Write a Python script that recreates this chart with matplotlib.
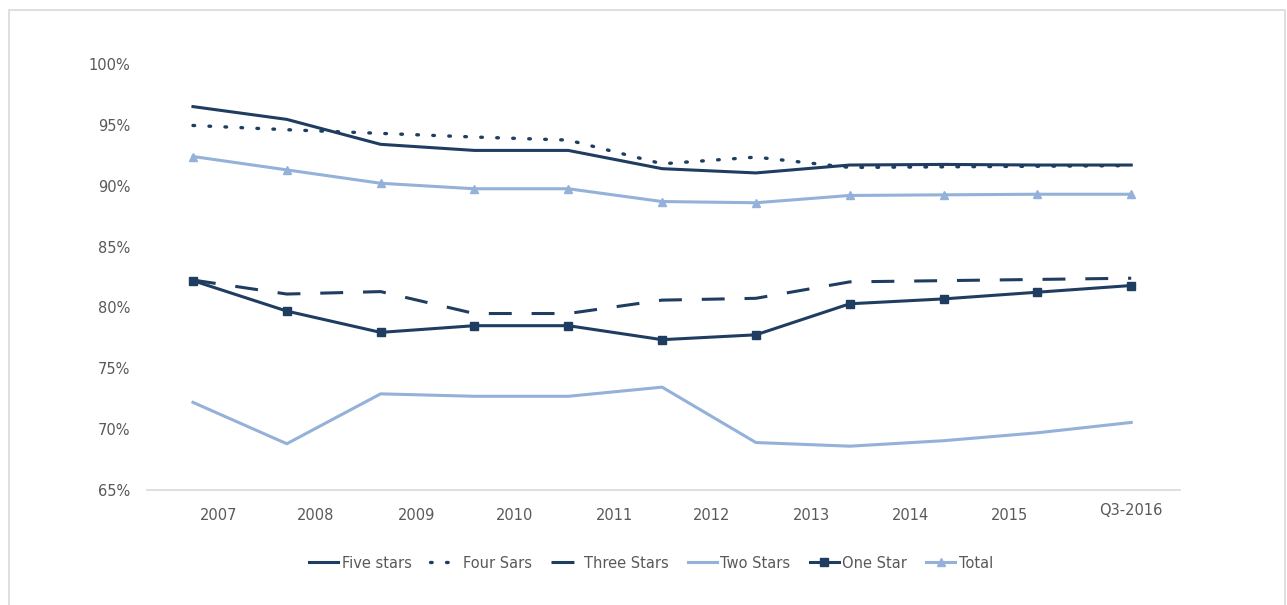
import matplotlib
matplotlib.use('Agg')
import matplotlib.pyplot as plt
import matplotlib.transforms as mtransforms
from matplotlib.patches import Rectangle

plt.rcParams['font.family'] = ['Liberation Sans Narrow', 'DejaVu Sans']

# Data, 11 points per series
five_stars = [96.5, 95.45, 93.4, 92.9, 92.9, 91.4, 91.05, 91.7, 91.75, 91.7, 91.7]
four_sars = [94.95, 94.6, 94.3, 94.0, 93.75, 91.8, 92.35, 91.5, 91.55, 91.6, 91.65]
three_stars = [82.25, 81.1, 81.3, 79.5, 79.5, 80.6, 80.75, 82.1, 82.2, 82.3, 82.4]
two_stars = [72.2, 68.8, 72.9, 72.7, 72.7, 73.45, 68.9, 68.6, 69.05, 69.7, 70.55]
one_star = [82.2, 79.7, 77.95, 78.5, 78.5, 77.35, 77.75, 80.3, 80.7, 81.25, 81.8]
total = [92.4, 91.3, 90.2, 89.75, 89.75, 88.7, 88.6, 89.2, 89.25, 89.3, 89.3]

# x-axis labels and where they sit along the category axis
x_labels = ['2007', '2008', '2009', '2010', '2011', '2012', '2013', '2014', '2015', 'Q3-2016']
x_label_pos = [0.27, 1.31, 2.38, 3.43, 4.49, 5.53, 6.59, 7.65, 8.70, 10.0]

y_ticks = [65, 70, 75, 80, 85, 90, 95, 100]

navy = '#1F3D60'
light = '#93B1D9'
text_col = '#595959'

x = list(range(len(five_stars)))

fig = plt.figure(figsize=(12.87, 6.05), dpi=100)
ax = fig.add_axes([147 / 1287, 1 - 490 / 605, (1180 - 147) / 1287, (490 - 64) / 605])

ax.plot(x, five_stars, color=navy, lw=2.2, label='Five stars')
ax.plot(x, four_sars, color=navy, lw=2.4, linestyle=(0, (0.5, 4.3)),
        dash_capstyle='round', label='Four Sars')
ax.plot(x, three_stars, color=navy, lw=2.2, linestyle=(0, (7.5, 6.5)), label='Three Stars')
ax.plot(x, two_stars, color=light, lw=2.2, label='Two Stars')
ax.plot(x, one_star, color=navy, lw=2.2, marker='s', markersize=5.5, label='One Star')
ax.plot(x, total, color=light, lw=2.2, marker='^', markersize=6, label='Total')

ax.set_xlim(-0.49, 10.52)
ax.set_ylim(65, 100)
ax.set_yticks(y_ticks)
ax.set_yticklabels([f'{v}%' for v in y_ticks])
ax.set_xticks([])
ax.tick_params(axis='y', length=0, pad=12, labelsize=10.5, labelcolor=text_col)

for side in ['top', 'right', 'left']:
    ax.spines[side].set_visible(False)
ax.spines['bottom'].set_color('#D9D9D9')
ax.spines['bottom'].set_linewidth(1.2)

# x labels placed along the category axis
trans = mtransforms.blended_transform_factory(ax.transData, ax.transAxes)
for lab, pos in zip(x_labels, x_label_pos):
    yy = -0.049 if lab.startswith('Q3') else -0.061
    ax.text(pos, yy, lab, transform=trans, ha='center', va='center',
            fontsize=10.5, color=text_col)

leg = fig.legend(loc='center', bbox_to_anchor=(651 / 1287, 1 - 563 / 605), ncol=6,
                 frameon=False, fontsize=10.5, handlelength=2.0, handletextpad=0.25,
                 columnspacing=1.3, labelcolor=text_col)

# light gray chart border
fig.patches.append(Rectangle((9 / 1287, -0.02), (1285 - 9) / 1287, 1.02 - 10 / 605,
                             transform=fig.transFigure, fill=False,
                             edgecolor='#D9D9D9', lw=1.2))

fig.savefig('out.png', dpi=100)
plt.close()
